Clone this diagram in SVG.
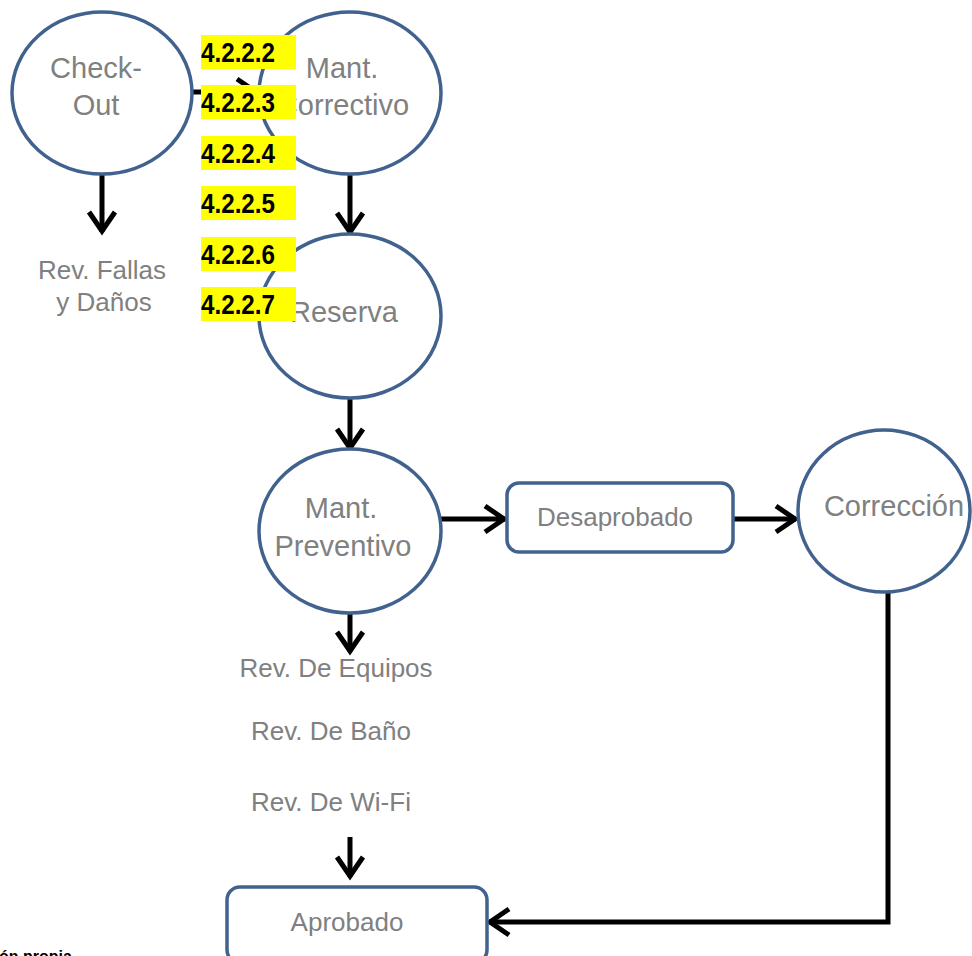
<svg xmlns="http://www.w3.org/2000/svg" width="972" height="956" viewBox="0 0 972 956">
  <defs>
    <style>
      .node { fill: #ffffff; stroke: #41628E; stroke-width: 3.5; }
      .lbl { font-family: "Liberation Sans", Arial, sans-serif; fill: #808080; text-anchor: middle; }
      .big { font-size: 29px; }
      .mid { font-size: 26px; }
      .conn { fill: none; stroke: #000000; stroke-width: 5; marker-end: url(#arr); }
      .tag rect { fill: #FFFF00; }
      .tag text { font-family: "Liberation Sans", Arial, sans-serif; font-weight: bold; font-size: 28px; fill: #000000; }
    </style>
    <marker id="arr" markerUnits="userSpaceOnUse" orient="auto" refX="0" refY="0" markerWidth="40" markerHeight="40" viewBox="-30 -20 40 40" overflow="visible">
      <path d="M-20,-13 L-1,0 L-20,13" fill="none" stroke="#000000" stroke-width="5"/>
    </marker>
  </defs>

  <rect width="972" height="956" fill="#ffffff"/>

  <!-- connectors -->
  <g id="connectors">
    <path class="conn" d="M102,175 L102,232"/>
    <path class="conn" d="M193,92 L257,92"/>
    <path class="conn" d="M350,175 L350,233"/>
    <path class="conn" d="M350,399 L350,449"/>
    <path class="conn" d="M441,519 L505,519"/>
    <path class="conn" d="M734,519 L796,519"/>
    <path class="conn" d="M350,614 L350,652"/>
    <path class="conn" d="M350,837 L350,877"/>
    <path class="conn" d="M888,593 L888,922 L489,922"/>
  </g>

  <!-- nodes -->
  <g id="check-out">
    <ellipse class="node" cx="102" cy="93" rx="90" ry="81"/>
    <text class="lbl big" x="96" y="78">Check-</text>
    <text class="lbl big" x="96" y="115">Out</text>
  </g>

  <g id="rev-fallas">
    <text class="lbl mid" x="102" y="279">Rev. Fallas</text>
    <text class="lbl mid" x="104" y="311">y Daños</text>
  </g>

  <g id="mant-correctivo">
    <ellipse class="node" cx="350" cy="93" rx="91" ry="81"/>
    <text class="lbl big" x="342" y="78">Mant.</text>
    <text class="lbl big" x="343" y="115">Correctivo</text>
  </g>

  <g id="reserva">
    <ellipse class="node" cx="350" cy="316" rx="91" ry="82"/>
    <text class="lbl big" x="344" y="322">Reserva</text>
  </g>

  <g id="mant-preventivo">
    <ellipse class="node" cx="350" cy="531" rx="91" ry="82"/>
    <text class="lbl big" x="341" y="518">Mant.</text>
    <text class="lbl big" x="343" y="556">Preventivo</text>
  </g>

  <g id="desaprobado">
    <rect class="node" x="507" y="483" width="226" height="69" rx="12"/>
    <text class="lbl mid" x="615" y="526">Desaprobado</text>
  </g>

  <g id="correccion">
    <ellipse class="node" cx="884" cy="511" rx="86" ry="81"/>
    <text class="lbl big" x="894" y="516">Corrección</text>
  </g>

  <g id="revisiones">
    <text class="lbl mid" x="336" y="677">Rev. De Equipos</text>
    <text class="lbl mid" x="331" y="740">Rev. De Baño</text>
    <text class="lbl mid" x="331" y="811">Rev. De Wi-Fi</text>
  </g>

  <g id="aprobado">
    <rect class="node" x="227" y="887" width="260" height="76" rx="13"/>
    <text class="lbl mid" x="347" y="931">Aprobado</text>
  </g>

  <!-- section number tags -->
  <g id="tags" class="tag">
    <rect x="201" y="35" width="95" height="34"/>
    <text x="201" y="62" textLength="74" lengthAdjust="spacingAndGlyphs">4.2.2.2</text>
    <rect x="201" y="85" width="95" height="34"/>
    <text x="201" y="112" textLength="74" lengthAdjust="spacingAndGlyphs">4.2.2.3</text>
    <rect x="201" y="136" width="95" height="34"/>
    <text x="201" y="163" textLength="74" lengthAdjust="spacingAndGlyphs">4.2.2.4</text>
    <rect x="201" y="186" width="95" height="34"/>
    <text x="201" y="213" textLength="74" lengthAdjust="spacingAndGlyphs">4.2.2.5</text>
    <rect x="201" y="237" width="95" height="34"/>
    <text x="201" y="264" textLength="74" lengthAdjust="spacingAndGlyphs">4.2.2.6</text>
    <rect x="201" y="287" width="95" height="34"/>
    <text x="201" y="314" textLength="74" lengthAdjust="spacingAndGlyphs">4.2.2.7</text>
  </g>

  <!-- source caption -->
  <text x="-1" y="962" font-family="Liberation Sans, Arial, sans-serif" font-weight="bold" font-size="16" fill="#000000">ón propia</text>
</svg>
